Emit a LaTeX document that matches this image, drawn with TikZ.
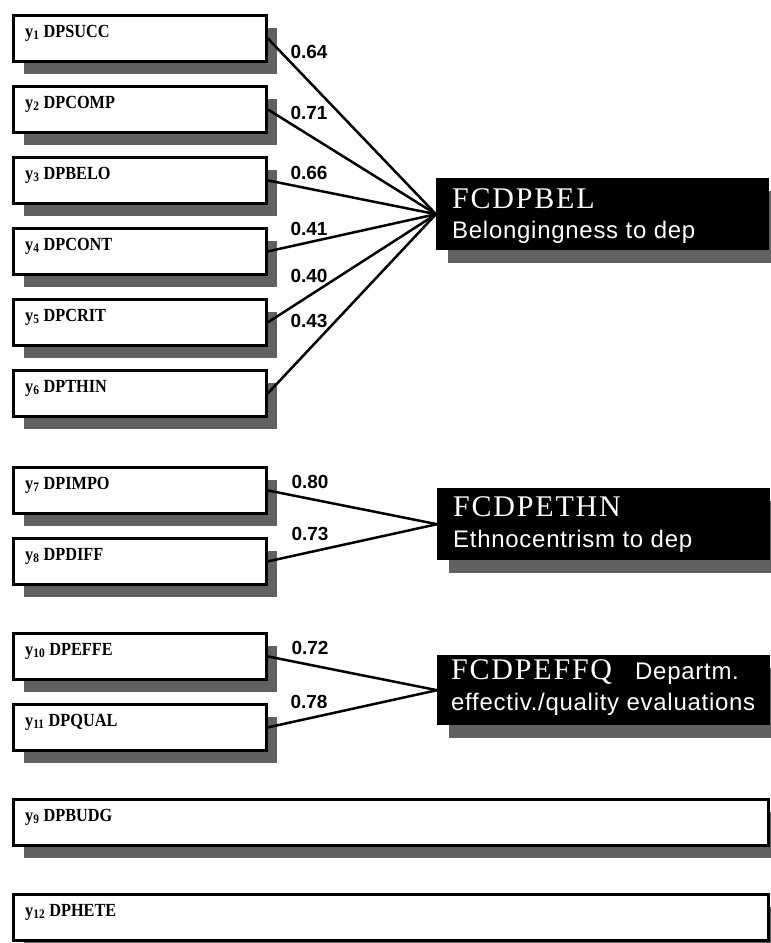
\documentclass[tikz,border=0pt]{standalone}
\usepackage{fontspec}
\setmainfont{Liberation Serif}
\newfontfamily\lblfont{Liberation Serif}[FakeStretch=0.88]
\newfontfamily\headfont{Liberation Serif}[LetterSpace=6]
\newfontfamily\descfont{Liberation Sans}[LetterSpace=3]
\newfontfamily\loadfont{Liberation Sans}
\usetikzlibrary{shadows}

\tikzset{
  obox/.style={draw, line width=2.8pt, fill=white, anchor=north west, inner sep=0pt,
    minimum width=253pt, minimum height=46pt,
    general shadow={shadow xshift=11pt, shadow yshift=-13pt, fill=black!62}},
  widebox/.style={obox, minimum width=755pt},
  latbox/.style={fill=black, anchor=north west, inner sep=0pt,
    minimum width=333pt, minimum height=72pt,
    general shadow={shadow xshift=12pt, shadow yshift=-13pt, fill=black!62}},
  boxlbl/.style={anchor=base west, inner sep=0pt, font=\lblfont\bfseries\fontsize{18.5}{20}\selectfont},
  head/.style={anchor=base west, inner sep=0pt, text=white, font=\headfont\fontsize{30}{32}\selectfont},
  desc/.style={anchor=base west, inner sep=0pt, text=white, font=\descfont\fontsize{24}{28}\selectfont},
  load/.style={inner sep=0pt, font=\loadfont\bfseries\fontsize{19}{21}\selectfont},
  link/.style={line width=2.5pt},
}

\newcommand{\ylab}[2]{y\textsubscript{#1} #2}

\begin{document}
\begin{tikzpicture}[x=1pt, y=-1pt]
  \useasboundingbox (0,0) rectangle (771,943);
  \clip (0,0) rectangle (771,943);

  % observed indicators
  \node[obox] (y1) at (12,14) {};
  \node[obox] (y2) at (12,85) {};
  \node[obox] (y3) at (12,156) {};
  \node[obox] (y4) at (12,227) {};
  \node[obox] (y5) at (12,298) {};
  \node[obox] (y6) at (12,369) {};
  \node[obox] (y7) at (12,466) {};
  \node[obox] (y8) at (12,537) {};
  \node[obox] (y10) at (12,632) {};
  \node[obox] (y11) at (12,703) {};
  \node[widebox] (y9) at (12,798) {};
  \node[widebox] (y12) at (12,893) {};

  \node[boxlbl] (t1) at ([shift={(13,23)}]y1.north west) {\ylab{1}{DPSUCC}};
  \node[boxlbl] (t2) at ([shift={(13,23)}]y2.north west) {\ylab{2}{DPCOMP}};
  \node[boxlbl] (t3) at ([shift={(13,23)}]y3.north west) {\ylab{3}{DPBELO}};
  \node[boxlbl] (t4) at ([shift={(13,23)}]y4.north west) {\ylab{4}{DPCONT}};
  \node[boxlbl] (t5) at ([shift={(13,23)}]y5.north west) {\ylab{5}{DPCRIT}};
  \node[boxlbl] (t6) at ([shift={(13,23)}]y6.north west) {\ylab{6}{DPTHIN}};
  \node[boxlbl] (t7) at ([shift={(13,23)}]y7.north west) {\ylab{7}{DPIMPO}};
  \node[boxlbl] (t8) at ([shift={(13,23)}]y8.north west) {\ylab{8}{DPDIFF}};
  \node[boxlbl] (t10) at ([shift={(13,23)}]y10.north west) {\ylab{10}{DPEFFE}};
  \node[boxlbl] (t11) at ([shift={(13,23)}]y11.north west) {\ylab{11}{DPQUAL}};
  \node[boxlbl] (t9) at ([shift={(13,23)}]y9.north west) {\ylab{9}{DPBUDG}};
  \node[boxlbl] (t12) at ([shift={(13,23)}]y12.north west) {\ylab{12}{DPHETE}};

  % latent factors
  \node[latbox] (bel) at (436,178) {};
  \node[latbox] (ethn) at (437,488) {};
  \node[latbox, minimum height=70pt] (effq) at (437,655) {};

  \node[head] (belh) at (452,208) {FCDPBEL};
  \node[desc] (beld) at (452,238) {Belongingness to dep};
  \node[head] (ethnh) at (453,516) {FCDPETHN};
  \node[desc] (ethnd) at (453,547) {Ethnocentrism to dep};
  \node[head] (effqh) at (451,679) {FCDPEFFQ};
  \node[desc] (effqa) at (635,679) {Departm.};
  \node[desc] (effqd) at (451,710) {effectiv./quality evaluations};

  % loadings
  \foreach \y in {y1,y2,y3,y4,y5,y6} \draw[link] (\y.east) -- (bel.west);
  \foreach \y in {y7,y8} \draw[link] (\y.east) -- (ethn.west);
  \foreach \y in {y10,y11} \draw[link] (\y.east) -- (effq.west);

  \node[load] (l1) at (309,52) {0.64};
  \node[load] (l2) at (309,113) {0.71};
  \node[load] (l3) at (309,173) {0.66};
  \node[load] (l4) at (309,229) {0.41};
  \node[load] (l5) at (309,276) {0.40};
  \node[load] (l6) at (309,321) {0.43};
  \node[load] (l7) at (310,482) {0.80};
  \node[load] (l8) at (310,534) {0.73};
  \node[load] (l10) at (310,648) {0.72};
  \node[load] (l11) at (309,702) {0.78};
\end{tikzpicture}
\end{document}
